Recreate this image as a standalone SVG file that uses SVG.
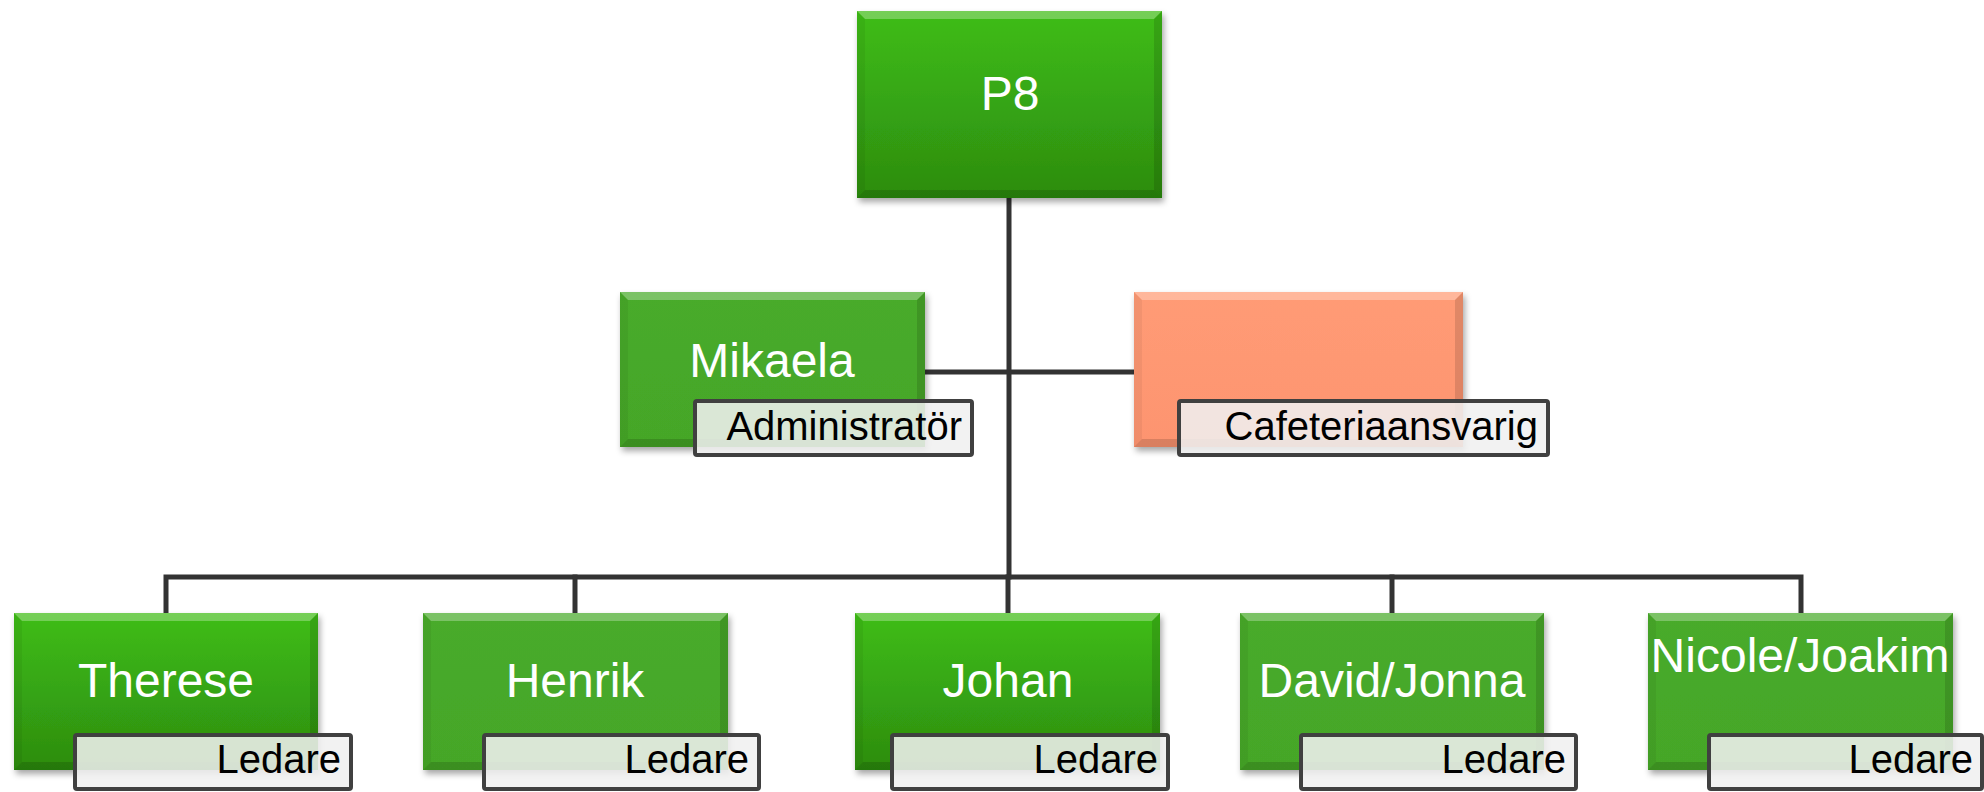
<svg xmlns="http://www.w3.org/2000/svg" width="1984" height="792" viewBox="0 0 1984 792">
<defs>
<linearGradient id="gBright" x1="0" y1="0" x2="0" y2="1">
<stop offset="0" stop-color="#3fbd17"/>
<stop offset="1" stop-color="#2c8c0f"/>
</linearGradient>
<linearGradient id="gFlat" x1="0" y1="0" x2="0" y2="1">
<stop offset="0" stop-color="#48ab2a"/>
<stop offset="1" stop-color="#45a628"/>
</linearGradient>
<linearGradient id="gOrange" x1="0" y1="0" x2="0" y2="1">
<stop offset="0" stop-color="#ff9b75"/>
<stop offset="1" stop-color="#fd9470"/>
</linearGradient>
<filter id="sh" x="-10%" y="-10%" width="125%" height="130%">
<feDropShadow dx="2" dy="4" stdDeviation="3" flood-color="#000" flood-opacity="0.35"/>
</filter>
<style>
.conn{stroke:#333;stroke-width:5;fill:none;stroke-linecap:square}
.name{font-family:"Liberation Sans",Arial,sans-serif;font-size:48px;fill:#fff;text-anchor:middle}
.role{font-family:"Liberation Sans",Arial,sans-serif;font-size:40px;fill:#000;text-anchor:end}
.lbl{fill:#f0f0f0;fill-opacity:0.87;stroke:#404040;stroke-width:4}
.bt{fill:#fff;fill-opacity:0.28}
.bl{fill:#000;fill-opacity:0.05}
.br{fill:#000;fill-opacity:0.12}
.bb{fill:#000;fill-opacity:0.14}
</style>
</defs>

<g id="connectors">
<path class="conn" d="M1009 198 V577"/>
<path class="conn" d="M925 372 H1134"/>
<path class="conn" d="M166 612 V577 H1801 V612"/>
<path class="conn" d="M575 577 V612"/>
<path class="conn" d="M1008 577 V612"/>
<path class="conn" d="M1392 577 V612"/>
</g>

<g id="node-p8">
<rect x="857" y="11" width="305" height="187" fill="url(#gBright)" filter="url(#sh)"/>
<polygon class="bt" points="857,11 1162,11 1154,19 865,19"/>
<polygon class="bl" points="857,11 865,19 865,190 857,198"/>
<polygon class="br" points="1162,11 1154,19 1154,190 1162,198"/>
<polygon class="bb" points="857,198 865,190 1154,190 1162,198"/>
<text class="name" x="1010" y="110">P8</text>
</g>

<g id="node-mikaela">
<rect x="620" y="292" width="305" height="155" fill="url(#gFlat)" filter="url(#sh)"/>
<polygon class="bt" points="620,292 925,292 917,300 628,300"/>
<polygon class="bl" points="620,292 628,300 628,439 620,447"/>
<polygon class="br" points="925,292 917,300 917,439 925,447"/>
<polygon class="bb" points="620,447 628,439 917,439 925,447"/>
<text class="name" x="772" y="377">Mikaela</text>
<rect class="lbl" x="695" y="401" width="277" height="54" rx="2"/>
<text class="role" x="962" y="440">Administratör</text>
</g>

<g id="node-cafeteria">
<rect x="1134" y="292" width="329" height="155" fill="url(#gOrange)" filter="url(#sh)"/>
<polygon class="bt" points="1134,292 1463,292 1455,300 1142,300"/>
<polygon class="bl" points="1134,292 1142,300 1142,439 1134,447"/>
<polygon class="br" points="1463,292 1455,300 1455,439 1463,447"/>
<polygon class="bb" points="1134,447 1142,439 1455,439 1463,447"/>
<rect class="lbl" x="1179" y="401" width="369" height="54" rx="2"/>
<text class="role" x="1538" y="440">Cafeteriaansvarig</text>
</g>

<g id="node-therese">
<rect x="14" y="613" width="304" height="157" fill="url(#gBright)" filter="url(#sh)"/>
<polygon class="bt" points="14,613 318,613 310,621 22,621"/>
<polygon class="bl" points="14,613 22,621 22,762 14,770"/>
<polygon class="br" points="318,613 310,621 310,762 318,770"/>
<polygon class="bb" points="14,770 22,762 310,762 318,770"/>
<text class="name" x="166" y="697">Therese</text>
<rect class="lbl" x="75" y="735" width="276" height="54" rx="2"/>
<text class="role" x="341" y="773">Ledare</text>
</g>

<g id="node-henrik">
<rect x="423" y="613" width="305" height="157" fill="url(#gFlat)" filter="url(#sh)"/>
<polygon class="bt" points="423,613 728,613 720,621 431,621"/>
<polygon class="bl" points="423,613 431,621 431,762 423,770"/>
<polygon class="br" points="728,613 720,621 720,762 728,770"/>
<polygon class="bb" points="423,770 431,762 720,762 728,770"/>
<text class="name" x="575" y="697">Henrik</text>
<rect class="lbl" x="484" y="735" width="275" height="54" rx="2"/>
<text class="role" x="749" y="773">Ledare</text>
</g>

<g id="node-johan">
<rect x="855" y="613" width="305" height="157" fill="url(#gBright)" filter="url(#sh)"/>
<polygon class="bt" points="855,613 1160,613 1152,621 863,621"/>
<polygon class="bl" points="855,613 863,621 863,762 855,770"/>
<polygon class="br" points="1160,613 1152,621 1152,762 1160,770"/>
<polygon class="bb" points="855,770 863,762 1152,762 1160,770"/>
<text class="name" x="1008" y="697">Johan</text>
<rect class="lbl" x="892" y="735" width="276" height="54" rx="2"/>
<text class="role" x="1158" y="773">Ledare</text>
</g>

<g id="node-david">
<rect x="1240" y="613" width="304" height="157" fill="url(#gFlat)" filter="url(#sh)"/>
<polygon class="bt" points="1240,613 1544,613 1536,621 1248,621"/>
<polygon class="bl" points="1240,613 1248,621 1248,762 1240,770"/>
<polygon class="br" points="1544,613 1536,621 1536,762 1544,770"/>
<polygon class="bb" points="1240,770 1248,762 1536,762 1544,770"/>
<text class="name" x="1392" y="697">David/Jonna</text>
<rect class="lbl" x="1301" y="735" width="275" height="54" rx="2"/>
<text class="role" x="1566" y="773">Ledare</text>
</g>

<g id="node-nicole">
<rect x="1648" y="613" width="305" height="157" fill="url(#gFlat)" filter="url(#sh)"/>
<polygon class="bt" points="1648,613 1953,613 1945,621 1656,621"/>
<polygon class="bl" points="1648,613 1656,621 1656,762 1648,770"/>
<polygon class="br" points="1953,613 1945,621 1945,762 1953,770"/>
<polygon class="bb" points="1648,770 1656,762 1945,762 1953,770"/>
<text class="name" x="1800" y="672">Nicole/Joakim</text>
<rect class="lbl" x="1709" y="735" width="273" height="54" rx="2"/>
<text class="role" x="1973" y="773">Ledare</text>
</g>
</svg>
